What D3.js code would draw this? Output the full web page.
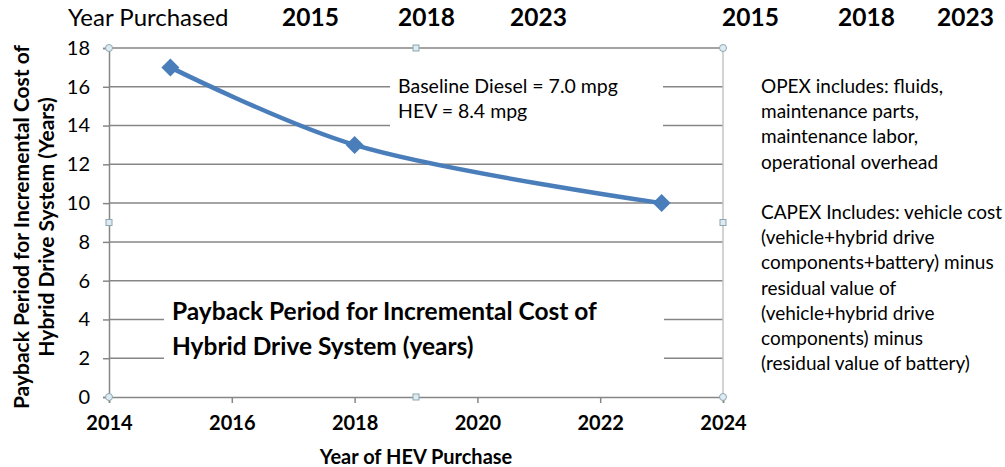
<!DOCTYPE html>
<html>
<head>
<meta charset="utf-8">
<script src="https://cdn.jsdelivr.net/npm/d3@7"></script>
<style>
  body { margin: 0; background: #fff; }
  svg text { font-family: Lato, "Open Sans", sans-serif; fill: #000; }
</style>
</head>
<body>
<svg id="chart" width="1005" height="467"></svg>
<script>
// data
var years = [2015, 2018, 2023];
var payback = [17, 13, 10];
var xTicks = [2014, 2016, 2018, 2020, 2022, 2024];
var yTicks = [0, 2, 4, 6, 8, 10, 12, 14, 16, 18];
var headerYears = ["2015", "2018", "2023"];
var noteMpg = ["Baseline Diesel = 7.0 mpg", "HEV = 8.4 mpg"];
var chartTitle = ["Payback Period for Incremental Cost of", "Hybrid Drive System (years)"];
var yLabel = ["Payback Period for Incremental Cost of", "Hybrid Drive System (Years)"];
var sideNotes = ["OPEX includes: fluids,", "maintenance parts,", "maintenance labor,", "operational overhead", "",
  "CAPEX Includes: vehicle cost", "(vehicle+hybrid drive", "components+battery) minus", "residual value of",
  "(vehicle+hybrid drive", "components) minus", "(residual value of battery)"];

var svg = d3.select("#chart");
var pL = 109, pR = 723, pT = 48, pB = 397;
var gridColor = "#868686";

var x = d3.scaleLinear().domain([2014, 2024]).range([pL, pR]);
var y = d3.scaleLinear().domain([0, 18]).range([pB, pT]);

// header row
var head = svg.append("g");
head.append("text").attr("x", 68).attr("y", 26).style("font-size", "24px").text("Year Purchased");
head.selectAll(".h1").data(headerYears).enter().append("text")
  .attr("x", function(d, i) { return [282, 398, 510][i]; })
  .attr("y", 26).style("font-size", "24.5px").style("font-weight", "bold")
  .text(function(d) { return d; });
head.selectAll(".h2").data(headerYears).enter().append("text")
  .attr("x", function(d, i) { return [722, 838, 937][i]; })
  .attr("y", 26).style("font-size", "24.5px").style("font-weight", "bold")
  .text(function(d) { return d; });

// grid + y axis
var yAxis = svg.append("g").attr("transform", "translate(" + pL + ",0)")
  .call(d3.axisLeft(y).tickValues(yTicks).tickSize(6).tickPadding(13).tickFormat(d3.format("d")));
yAxis.select(".domain").attr("stroke", gridColor).attr("stroke-width", 1.5);
yAxis.selectAll(".tick line").attr("stroke", gridColor).attr("stroke-width", 1.5);
yAxis.selectAll(".tick text").style("font-size", "20px").style("font-family", "Lato");

svg.append("g").selectAll("line").data(yTicks.filter(function(d) { return d > 0; })).enter()
  .append("line")
  .attr("x1", pL).attr("x2", pR)
  .attr("y1", function(d) { return y(d); }).attr("y2", function(d) { return y(d); })
  .attr("stroke", gridColor).attr("stroke-width", 1.5);

// right border of plot area
svg.append("line").attr("x1", pR).attr("x2", pR).attr("y1", pT).attr("y2", pB)
  .attr("stroke", "#c4c4c4").attr("stroke-width", 1.5);

// x axis
var xAxis = svg.append("g").attr("transform", "translate(0," + pB + ")")
  .call(d3.axisBottom(x).tickValues(xTicks).tickSize(6).tickPadding(13).tickFormat(d3.format("d")));
xAxis.select(".domain").attr("stroke", gridColor).attr("stroke-width", 1.5);
xAxis.selectAll(".tick line").attr("stroke", gridColor).attr("stroke-width", 1.5);
xAxis.selectAll(".tick text").style("font-size", "20px").style("font-weight", "bold").style("font-family", "Lato");

// axis titles
svg.append("text").attr("x", (pL + pR) / 2).attr("y", 464).attr("text-anchor", "middle")
  .style("font-size", "20px").style("font-weight", "bold").text("Year of HEV Purchase");
svg.append("g").attr("transform", "translate(0,227) rotate(-90)")
  .selectAll("text").data(yLabel).enter().append("text")
  .attr("x", 0).attr("y", function(d, i) { return 29 + i * 25; })
  .attr("text-anchor", "middle")
  .style("font-size", "21px").style("font-weight", "bold")
  .text(function(d) { return d; });

// text boxes on the plot
svg.append("rect").attr("x", 390).attr("y", 68).attr("width", 273).attr("height", 62).attr("fill", "#fff");
svg.append("g").selectAll("text").data(noteMpg).enter().append("text")
  .attr("x", 398).attr("y", function(d, i) { return 93 + i * 25; })
  .style("font-size", "19.5px").text(function(d) { return d; });

svg.append("rect").attr("x", 164).attr("y", 290).attr("width", 500).attr("height", 85).attr("fill", "#fff");
svg.append("g").selectAll("text").data(chartTitle).enter().append("text")
  .attr("x", 172).attr("y", function(d, i) { return 320 + i * 35; })
  .style("font-size", "24.5px").style("font-weight", "bold").text(function(d) { return d; });

// series
var pts = years.map(function(d, i) { return [d, payback[i]]; });
var line = d3.line()
  .x(function(d) { return x(d[0]); })
  .y(function(d) { return y(d[1]); })
  .curve(d3.curveCatmullRom.alpha(0.5));
svg.append("path").datum(pts).attr("d", line)
  .attr("fill", "none").attr("stroke", "#4a7ebb").attr("stroke-width", 4.5);
svg.append("g").selectAll("path").data(pts).enter().append("path")
  .attr("d", "M0,-9L9,0L0,9L-9,0Z")
  .attr("transform", function(d) { return "translate(" + x(d[0]) + "," + y(d[1]) + ")"; })
  .attr("fill", "#4a7ebb");

// selection handles of the plot area
var handles = [[pL, pT, "c"], [(pL + pR) / 2, pT, "s"], [pR, pT, "c"],
  [pL, (pT + pB) / 2, "s"], [pR, (pT + pB) / 2, "s"],
  [pL, pB, "c"], [(pL + pR) / 2, pB, "s"], [pR, pB, "c"]];
handles.forEach(function(h) {
  if (h[2] == "c") {
    svg.append("circle").attr("cx", h[0]).attr("cy", h[1]).attr("r", 3.5)
      .attr("fill", "#dcecf2").attr("stroke", "#8fa6b0").attr("stroke-width", 1);
  } else {
    svg.append("rect").attr("x", h[0] - 3).attr("y", h[1] - 3).attr("width", 6).attr("height", 6)
      .attr("fill", "#dcecf2").attr("stroke", "#8fa6b0").attr("stroke-width", 1);
  }
});

// notes at the right
svg.append("g").selectAll("text").data(sideNotes).enter().append("text")
  .attr("x", 761).attr("y", function(d, i) { return 93 + i * 25.2; })
  .style("font-size", "19px").text(function(d) { return d; });
</script>
</body>
</html>
